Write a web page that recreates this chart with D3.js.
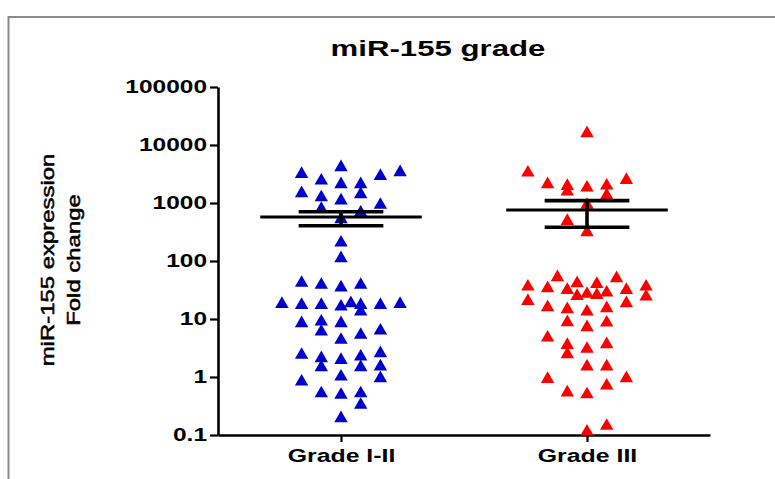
<!DOCTYPE html>
<html>
<head>
<meta charset="utf-8">
<script src="https://cdn.jsdelivr.net/npm/d3@7"></script>
<style>
  html, body { margin: 0; padding: 0; background: #fff; }
  svg { display: block; }
  text { font-family: "Liberation Sans", Arial, sans-serif; fill: #000; }
</style>
</head>
<body>
<svg id="chart" width="775" height="479"></svg>
<script>
// ---------- data ----------
const categories = ["Grade I-II", "Grade III"];

// Grade I-II : fold-change values and their column slot in the scatter
const gradeI_II = [4130, 3160, 3380, 2920, 2420, 2100, 2100, 1470, 1250, 1410, 1100, 924, 788, 680, 524, 207, 111,
  41.8, 38.6, 34.9, 38.6, 18.1, 17.4, 17.4, 16.3, 18.6, 17.4, 13.4, 17.4, 18.1,
  8.43, 8.98, 6.04, 8.43, 4.35, 5.30, 6.29, 2.40, 2.10, 1.47, 1.96, 2.24, 1.47, 2.56, 1.51,
  1.01, 0.83, 0.95, 0.52, 0.49, 0.52, 0.33, 0.194];
const gradeI_II_slot = [0, -2, 3, 2, -1, 0, 1, -2, -1, 1, 0, 2, -1, 1, 0, 0, 0,
  -2, -1, 0, 1, -3, -2, -1, 0, 0.5, 1, 1, 2, 3,
  -2, -1, -1, 0, 0, 1, 2, -2, -1, -1, 0, 1, 1, 2, 2,
  0, -2, 2, -1, 0, 1, 1, 0];

// Grade III
const gradeIII = [15900, 3330, 2100, 1960, 1570, 1840, 1990, 1360, 2490, 924, 489, 312,
  52.4, 50.3, 36.0, 33.8, 31.6, 41.3, 40.1, 24.9, 27.0, 25.9, 28.4, 31.6, 36.0, 24.2,
  20.4, 15.9, 14.7, 13.4, 15.3, 18.6, 8.77, 7.19, 8.63, 4.76, 3.56, 2.46, 3.04, 3.66,
  1.51, 1.51, 0.92, 0.95, 0.71, 0.54, 0.50, 0.143, 0.114];
const gradeIII_slot = [0, -3, -2, -1, -1, 0, 1, 1, 2, 0, -1, 0,
  -1.5, 1.5, -3, -2, -1, -0.5, 0.5, -0.5, 0, 0.5, 1, 2, 3, 3,
  -3, -2, -1, 0, 1, 2, -1, 0, 1, -2, -1, -1, 0, 1,
  0, 1, -2, 2, 1, -1, 0, 1, 0];

// mean and SEM bounds
const means = [574, 757];
const semLower = [406, 381];
const semUpper = [708, 1097];

const yTicks = [0.1, 1, 10, 100, 1000, 10000, 100000];
const yTickLabels = ["0.1", "1", "10", "100", "1000", "10000", "100000"];
const seriesColors = ["#0000cc", "#ff0000"];

// ---------- layout ----------
const svg = d3.select("#chart");
const SX = 1.4; // horizontal text stretch seen in the figure

// frame
svg.append("rect")
  .attr("x", 8.5).attr("y", 17).attr("width", 800).attr("height", 500)
  .attr("fill", "none").attr("stroke", "#8a8a8a").attr("stroke-width", 2);

const y = d3.scaleLog().domain([0.1, 100000]).range([435, 87]);
const x = d3.scalePoint().domain(categories).range([218, 710]).padding(0.5);
const slotX = d3.scaleLinear().domain([-1, 1]).range([-19.7, 19.7]);

// title
svg.append("text")
  .attr("transform", `translate(438,56) scale(1.45,1)`)
  .attr("text-anchor", "middle")
  .style("font-size", "21.5px").style("font-weight", "bold")
  .text("miR-155 grade");

// y axis
const yAxis = svg.append("g")
  .attr("transform", "translate(218,0)")
  .call(d3.axisLeft(y).tickValues(yTicks).tickFormat((d, i) => yTickLabels[i]).tickSize(8).tickSizeOuter(0));
yAxis.select(".domain").attr("stroke", "#000").attr("stroke-width", 2.6);
yAxis.selectAll(".tick line").attr("stroke", "#000").attr("stroke-width", 2.2);
yAxis.selectAll(".tick text")
  .attr("x", -11 / SX)
  .attr("transform", `scale(${SX},1)`)
  .style("font-size", "17.5px").style("font-weight", "bold")
  .style("font-family", '"Liberation Sans", Arial, sans-serif')
  .attr("fill", "#000");

// x axis
const xAxis = svg.append("g")
  .attr("transform", "translate(0,435)")
  .call(d3.axisBottom(x).tickSize(7).tickSizeOuter(0));
xAxis.select(".domain").attr("stroke", "#000").attr("stroke-width", 2.6);
xAxis.selectAll(".tick line").attr("stroke", "#000").attr("stroke-width", 2.2);
xAxis.selectAll(".tick text")
  .attr("y", 0).attr("dy", 0)
  .attr("transform", `translate(0,27) scale(1.42,1)`)
  .style("font-size", "17.5px").style("font-weight", "bold")
  .style("font-family", '"Liberation Sans", Arial, sans-serif')
  .attr("fill", "#000");

// y axis label
const ylab = [["miR-155 expression", 48], ["Fold change", 74]];
ylab.forEach(([t, px]) => {
  svg.append("text")
    .attr("transform", `translate(${px},260) rotate(-90) scale(1.33,1)`)
    .attr("text-anchor", "middle")
    .attr("dy", "0.35em")
    .style("font-size", "18px")
    .attr("stroke", "#000").attr("stroke-width", 0.5)
    .text(t);
});

// points
const sym = d3.symbol().type(d3.symbolTriangle).size(78);
const series = [
  { cat: categories[0], values: gradeI_II, slots: gradeI_II_slot, color: seriesColors[0] },
  { cat: categories[1], values: gradeIII, slots: gradeIII_slot, color: seriesColors[1] }
];
series.forEach(s => {
  svg.append("g").selectAll("path")
    .data(s.values.map((v, i) => ({ v, slot: s.slots[i] })))
    .join("path")
    .attr("d", sym)
    .attr("fill", s.color)
    .attr("transform", d => `translate(${x(s.cat) + slotX(d.slot)},${y(d.v)})`);
});

// mean and SEM
categories.forEach((c, i) => {
  const cx = x(c);
  const g = svg.append("g").attr("stroke", "#000");
  g.append("line")
    .attr("x1", cx + slotX(-4.1)).attr("x2", cx + slotX(4.1))
    .attr("y1", y(means[i])).attr("y2", y(means[i]))
    .attr("stroke-width", 3);
  [semLower[i], semUpper[i]].forEach(v => {
    g.append("line")
      .attr("x1", cx + slotX(-2.15)).attr("x2", cx + slotX(2.15))
      .attr("y1", y(v)).attr("y2", y(v))
      .attr("stroke-width", 3.6);
  });
  g.append("line")
    .attr("x1", cx).attr("x2", cx)
    .attr("y1", y(semUpper[i])).attr("y2", y(semLower[i]))
    .attr("stroke-width", 3.6);
});
</script>
</body>
</html>
